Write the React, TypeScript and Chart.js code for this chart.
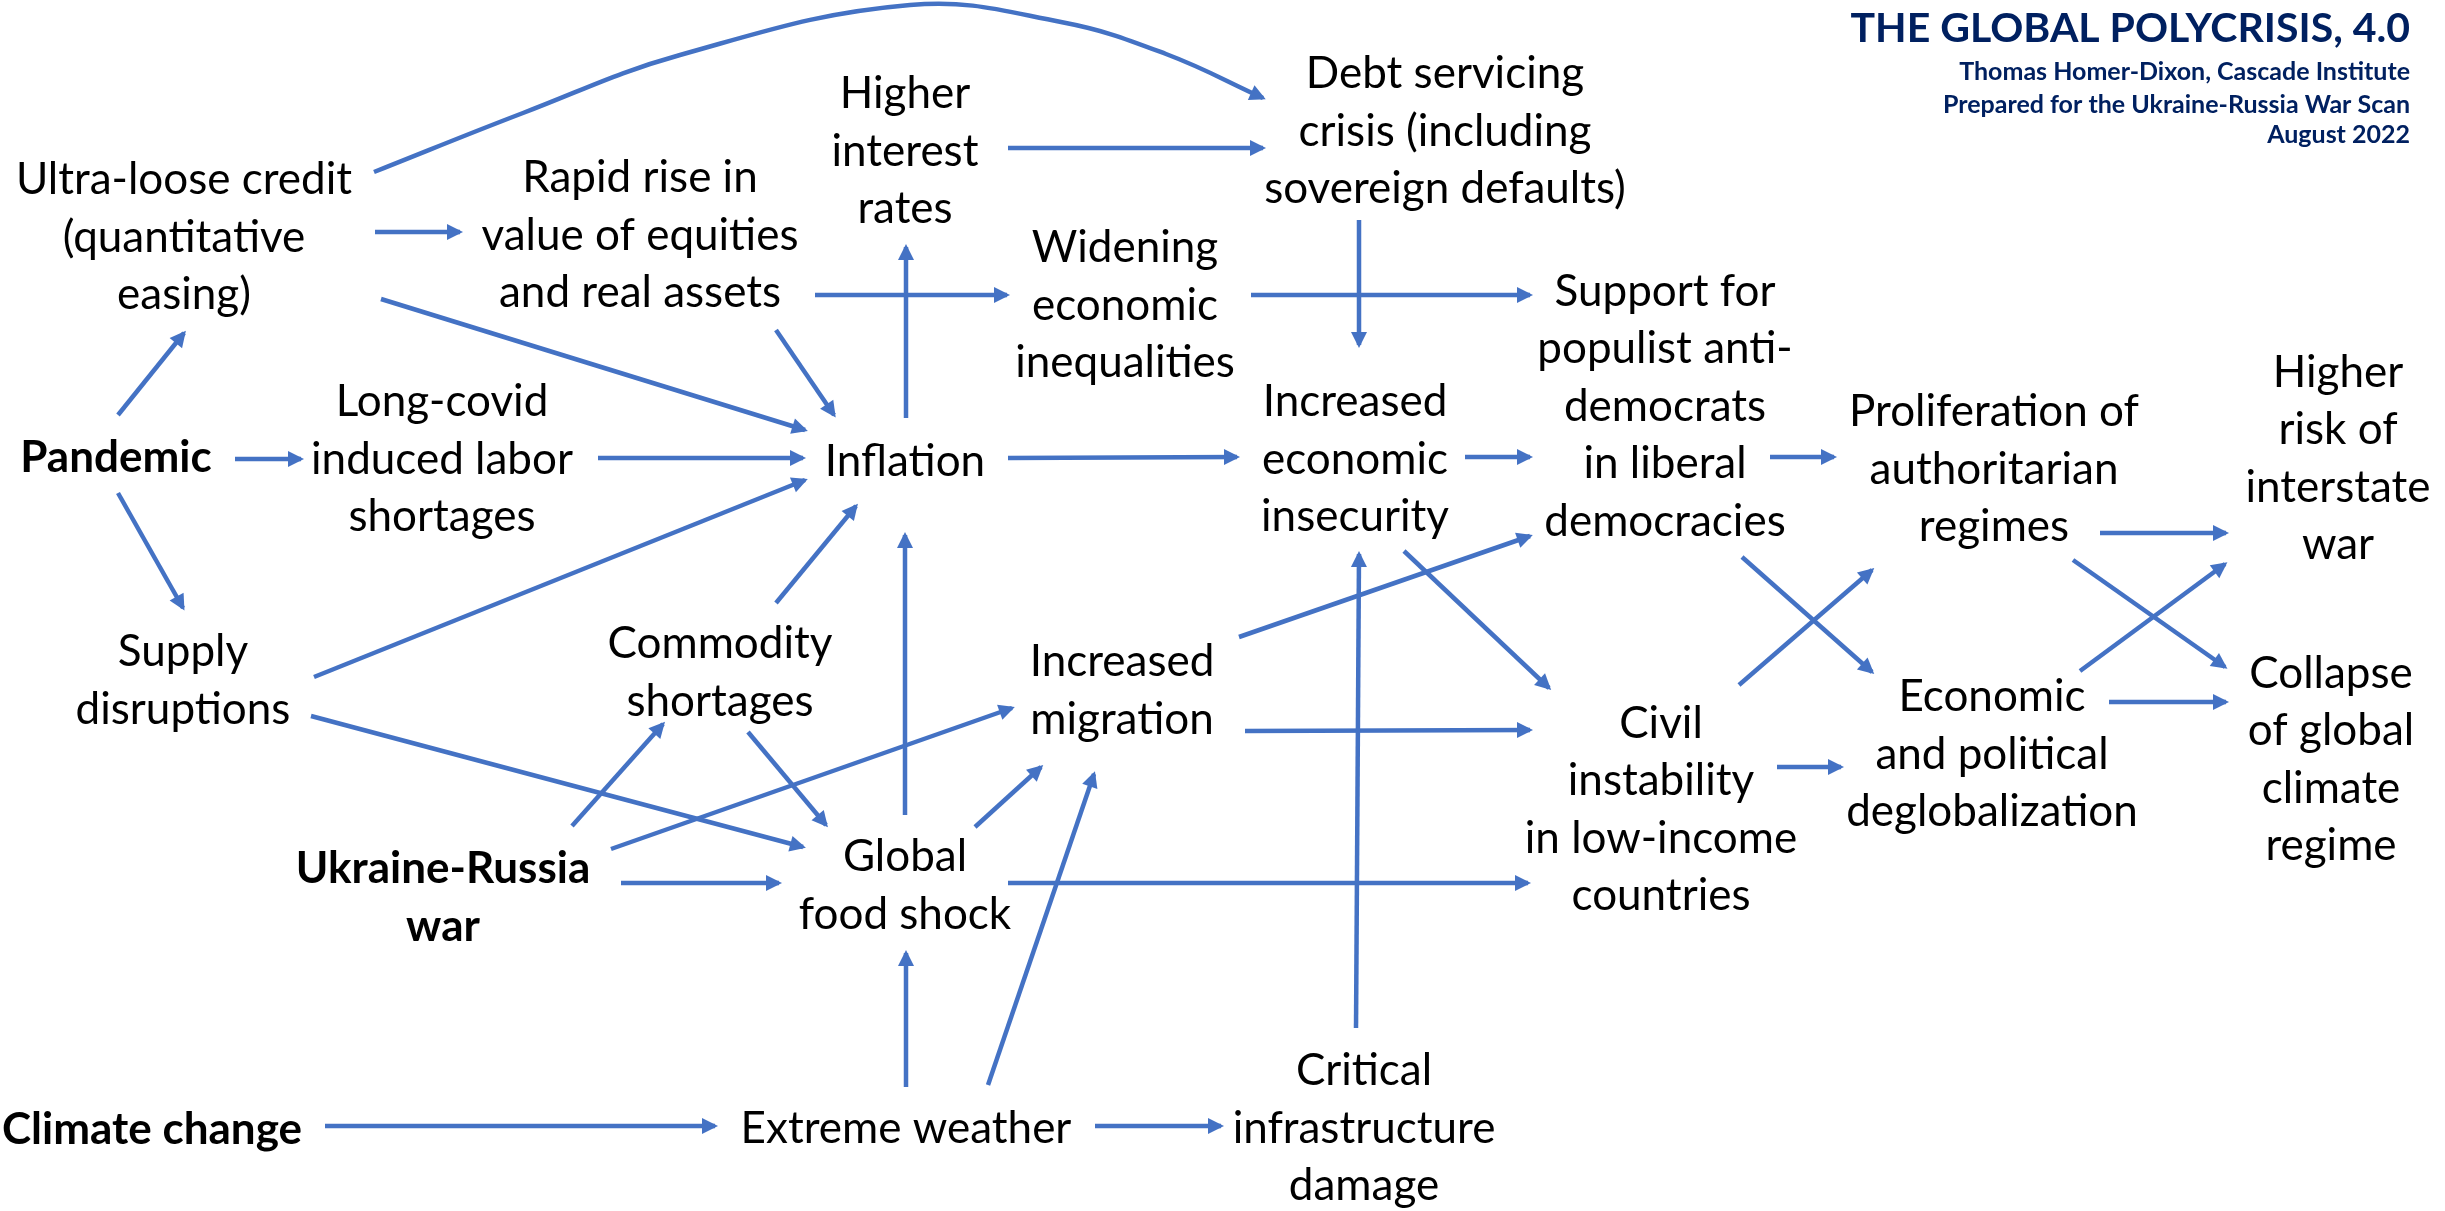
import React, { useEffect, useRef } from "react";
import { Chart, registerables } from "chart.js";

Chart.register(...registerables);

// ---------------- DATA ----------------
const nodeLabels: string[][] = [
  ["Ultra-loose credit", "(quantitative", "easing)"],
  ["Pandemic"],
  ["Supply", "disruptions"],
  ["Rapid rise in", "value of equities", "and real assets"],
  ["Long-covid", "induced labor", "shortages"],
  ["Higher", "interest", "rates"],
  ["Widening", "economic", "inequalities"],
  ["Inflation"],
  ["Commodity", "shortages"],
  ["Increased", "migration"],
  ["Global", "food shock"],
  ["Ukraine-Russia", "war"],
  ["Climate change"],
  ["Extreme weather"],
  ["Critical", "infrastructure", "damage"],
  ["Debt servicing", "crisis (including", "sovereign defaults)"],
  ["Increased", "economic", "insecurity"],
  ["Support for", "populist anti-", "democrats", "in liberal", "democracies"],
  ["Civil", "instability", "in low-income", "countries"],
  ["Proliferation of", "authoritarian", "regimes"],
  ["Economic", "and political", "deglobalization"],
  ["Higher", "risk of", "interstate", "war"],
  ["Collapse", "of global", "climate", "regime"],
];
const nodeX: number[] = [184, 116, 183, 640, 442, 905, 1125, 905, 720, 1122, 905, 443, 152, 906, 1364, 1445, 1355, 1665, 1661, 1994, 1992, 2338, 2331];
const nodeY: number[] = [236, 456, 679, 234, 458, 150, 304, 460, 671, 689, 884, 896, 1128, 1127, 1127, 130, 458, 405, 808, 468, 753, 457, 758];
const nodeBold: boolean[] = [false, true, false, false, false, false, false, false, false, false, false, true, true, false, false, false, false, false, false, false, false, false, false];

const arrowStarts: [number, number][] = [
  [375, 232], [381, 299], [118, 415], [235, 459], [118, 493], [598, 458], [314, 677], [311, 716],
  [815, 295], [776, 330], [906, 418], [1008, 148], [1251, 295], [1359, 220], [1008, 458], [1465, 457],
  [776, 603], [905, 815], [572, 826], [748, 732], [611, 849], [621, 883], [975, 827], [988, 1085],
  [906, 1087], [325, 1126], [1095, 1126], [1356, 1028], [1008, 883], [1239, 637], [1245, 731], [1404, 551],
  [1770, 457], [1742, 557], [1739, 685], [1777, 767], [2100, 533], [2073, 560], [2080, 671], [2109, 702],
];
const arrowEnds: [number, number][] = [
  [460, 232], [805, 430], [184, 333], [301, 459], [183, 608], [803, 458], [805, 480], [803, 847],
  [1007, 295], [834, 415], [906, 247], [1263, 148], [1530, 295], [1359, 345], [1237, 457], [1530, 457],
  [856, 506], [905, 535], [663, 724], [826, 825], [1012, 708], [779, 883], [1041, 767], [1094, 774],
  [906, 953], [715, 1126], [1221, 1126], [1359, 554], [1528, 883], [1530, 536], [1530, 730], [1549, 688],
  [1834, 457], [1872, 672], [1872, 570], [1841, 767], [2226, 533], [2225, 667], [2225, 564], [2226, 702],
];

// curved arrow: Ultra-loose credit -> Debt servicing crisis
const curveX: number[] = [374, 523, 680, 910, 1061, 1166, 1263];
const curveY: number[] = [172, 113, 55, 5, 22, 54, 98];

const titleText = "THE GLOBAL POLYCRISIS, 4.0";
const subtitleLines: string[] = [
  "Thomas Homer-Dixon, Cascade Institute",
  "Prepared for the Ukraine-Russia War Scan",
  "August 2022",
];
const headerRight = 2410;
const headerY: number[] = [27, 71, 104, 134];

// ---------------- STYLE ----------------
const W = 2445;
const H = 1211;
const BLUE = "#4472C4";
const NAVY = "#002060";
const FONT = "Lato, 'Open Sans', sans-serif";
const FONT_SIZE = 44;
const LINE_H = 57.5;
const CAP = 0.7165;
const LINE_W = 4.5;
const HEAD_LEN = 16;
const HEAD_HALF = 8;
const TITLE_SIZE = 41;
const SUB_SIZE = 25;

const diagramPlugin = {
  id: "diagram",
  afterDatasetsDraw(chart: any) {
    const ctx = chart.ctx;
    const xs = chart.scales.x;
    const ys = chart.scales.y;
    ctx.save();
    // arrowheads
    chart.data.datasets.forEach((ds: any, i: number) => {
      const meta = chart.getDatasetMeta(i);
      const pts = meta.data;
      if (!pts || pts.length < 2) return;
      const last = pts[pts.length - 1];
      let px: number, py: number;
      if (ds.curved && last.cp1x !== undefined && (last.cp1x !== last.x || last.cp1y !== last.y)) {
        px = last.cp1x;
        py = last.cp1y;
      } else {
        px = pts[pts.length - 2].x;
        py = pts[pts.length - 2].y;
      }
      const ang = Math.atan2(last.y - py, last.x - px);
      const ux = Math.cos(ang), uy = Math.sin(ang);
      const tx = last.x + ux * 3, ty = last.y + uy * 3;
      const bx = tx - ux * HEAD_LEN, by = ty - uy * HEAD_LEN;
      ctx.beginPath();
      ctx.moveTo(tx, ty);
      ctx.lineTo(bx - uy * HEAD_HALF, by + ux * HEAD_HALF);
      ctx.lineTo(bx + uy * HEAD_HALF, by - ux * HEAD_HALF);
      ctx.closePath();
      ctx.fillStyle = BLUE;
      ctx.fill();
    });
    // node texts
    ctx.fillStyle = "#000";
    ctx.textAlign = "center";
    ctx.textBaseline = "alphabetic";
    nodeLabels.forEach((lines, i) => {
      ctx.font = `${nodeBold[i] ? "bold " : ""}${FONT_SIZE}px ${FONT}`;
      const n = lines.length;
      lines.forEach((line, j) => {
        const yv = nodeY[i] + (j - (n - 1) / 2) * LINE_H;
        const x = xs.getPixelForValue(nodeX[i]);
        const y = ys.getPixelForValue(yv) + (CAP * FONT_SIZE) / 2;
        ctx.fillText(line, x, y);
      });
    });
    // header
    ctx.fillStyle = NAVY;
    ctx.textAlign = "right";
    const hx = xs.getPixelForValue(headerRight);
    ctx.font = `bold ${TITLE_SIZE}px ${FONT}`;
    ctx.fillText(titleText, hx, ys.getPixelForValue(headerY[0]) + (CAP * TITLE_SIZE) / 2);
    ctx.font = `bold ${SUB_SIZE}px ${FONT}`;
    subtitleLines.forEach((s, k) => {
      ctx.fillText(s, hx, ys.getPixelForValue(headerY[k + 1]) + (CAP * SUB_SIZE) / 2);
    });
    ctx.restore();
  },
};

export default function App() {
  const ref = useRef<HTMLCanvasElement | null>(null);
  useEffect(() => {
    if (!ref.current) return;
    const datasets: any[] = arrowStarts.map((s, i) => ({
      data: [
        { x: s[0], y: s[1] },
        { x: arrowEnds[i][0], y: arrowEnds[i][1] },
      ],
      showLine: true,
      borderColor: BLUE,
      borderWidth: LINE_W,
      pointRadius: 0,
      pointHoverRadius: 0,
      tension: 0,
      fill: false,
    }));
    datasets.push({
      data: curveX.map((x, i) => ({ x, y: curveY[i] })),
      showLine: true,
      borderColor: BLUE,
      borderWidth: LINE_W,
      pointRadius: 0,
      pointHoverRadius: 0,
      tension: 0.4,
      fill: false,
      curved: true,
    });
    const chart = new Chart(ref.current, {
      type: "scatter",
      data: { datasets },
      options: {
        animation: false,
        responsive: false,
        devicePixelRatio: 1,
        layout: { padding: 0 },
        plugins: { legend: { display: false }, tooltip: { enabled: false }, title: { display: false } },
        events: [],
        scales: {
          x: { type: "linear", min: 0, max: W, display: false },
          y: { type: "linear", min: 0, max: H, reverse: true, display: false },
        },
      },
      plugins: [diagramPlugin],
    });
    return () => chart.destroy();
  }, []);
  return (
    <div style={{ position: "absolute", left: 0, top: 0, width: W, height: H, background: "#fff" }}>
      <canvas ref={ref} width={W} height={H} style={{ width: W, height: H, display: "block" }} />
    </div>
  );
}
